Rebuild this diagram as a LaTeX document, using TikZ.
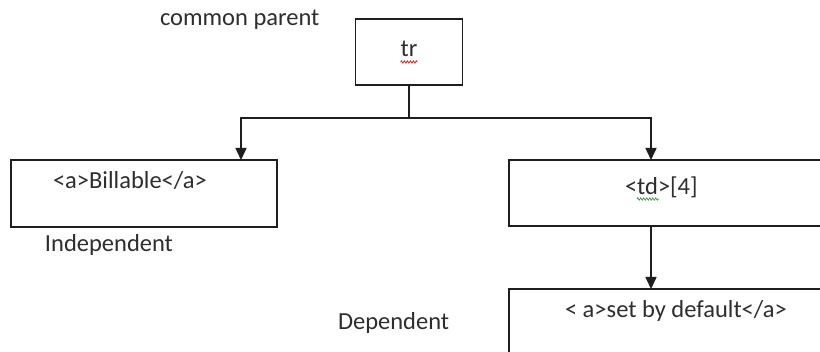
\documentclass[tikz,border=0pt]{standalone}
\usepackage{fontspec}
\setmainfont{Carlito}
\usetikzlibrary{arrows.meta,decorations.pathmorphing}
\definecolor{inkline}{HTML}{1E1E1E}
\definecolor{inktext}{HTML}{2E2E2E}
\definecolor{spellred}{HTML}{C8312C}
\definecolor{spellgreen}{HTML}{3E9A4A}
\begin{document}
\begin{tikzpicture}[x=1pt,y=-1pt,
  box/.style={draw=inkline, line width=1.5pt, rectangle, inner sep=0pt, outer sep=0pt},
  label/.style={font=\fontsize{24.5}{29}\selectfont, text=inktext, inner sep=0pt, outer sep=0pt},
  wire/.style={draw=inkline, line width=1.5pt},
  arrow/.style={wire, -{Triangle[width=11pt,length=12pt]}},
  squiggle/.style={line width=0.8pt, decorate,
    decoration={zigzag, amplitude=1.1pt, segment length=3pt}}]
  % page area
  \useasboundingbox (0,0) rectangle (820,352);
  \clip (0,0) rectangle (820,352);
  \fill[white] (0,0) rectangle (820,352);

  % boxes
  \node[box, minimum width=107pt, minimum height=66pt] (tr) at (409,52) {};
  \node[box, minimum width=266pt, minimum height=67pt] (bill) at (144,193.5) {};
  \node[box, minimum width=331pt, minimum height=66pt] (td) at (674.5,193) {};
  \node[box, minimum width=331pt, minimum height=91pt] (dflt) at (674.5,334.5) {};

  % texts
  \node[label, anchor=base west] (cp) at (160,26) {common parent};
  \node[label, anchor=base] (trtext) at (409,57) {tr};
  \node[label, anchor=base west] (billtext) at (53,189) {<a>Billable</a>};
  \node[label, anchor=base west] (indep) at (45,252) {Independent};
  \node[label, anchor=base west] (tdtext) at (625,195) {<td>[4]};
  \node[label, anchor=base west] (dflttext) at (565,318) {< a>set by default</a>};
  \node[label, anchor=base west] (dep) at (338,330) {Dependent};

  % spell-check underlines
  \draw[squiggle, spellred] ([yshift=-5pt]trtext.base west) -- ([yshift=-5pt]trtext.base east);
  \draw[squiggle, spellgreen] ([xshift=12pt,yshift=-4pt]tdtext.base west) -- ++(22,0);

  % connectors
  \path (tr.south) ++(0,33) coordinate (j);
  \draw[wire] (tr.south) -- (j);
  \draw[arrow] (j) -| ([xshift=230pt]bill.north west);
  \draw[arrow] (j) -| ([xshift=142pt]td.north west);
  \draw[arrow] ([xshift=142pt]td.south west) -- ([xshift=142pt]dflt.north west);
\end{tikzpicture}
\end{document}
